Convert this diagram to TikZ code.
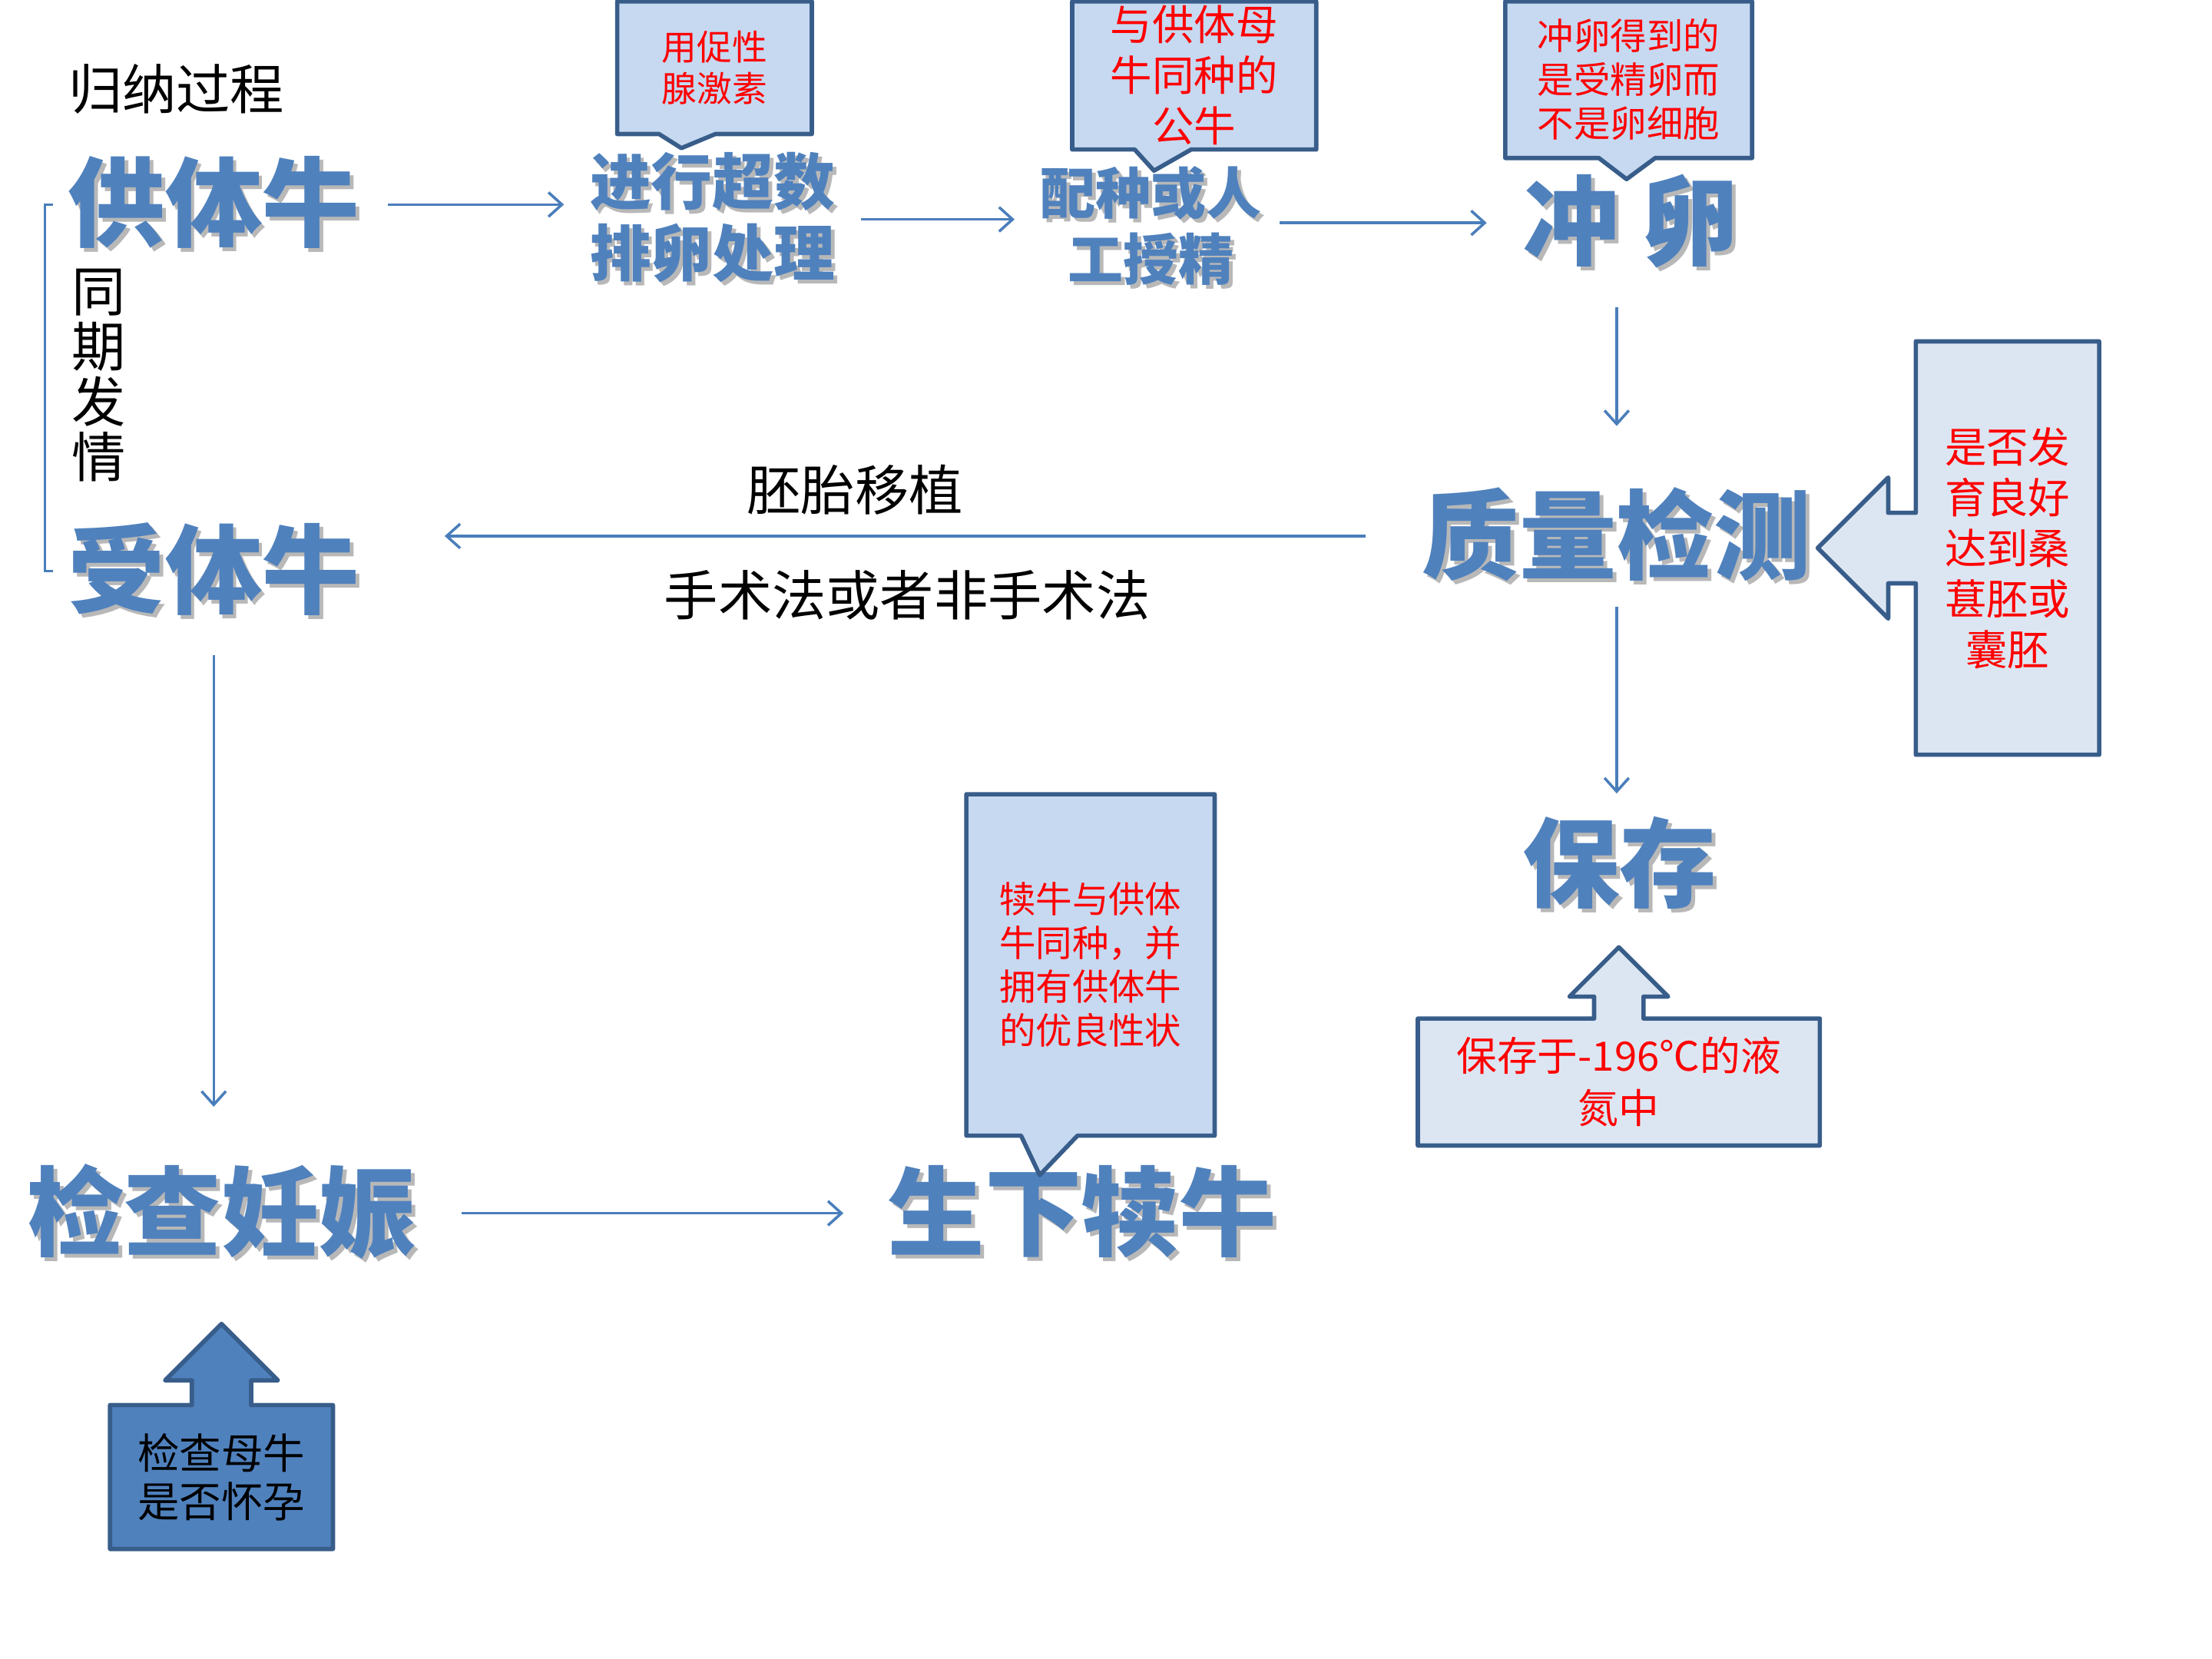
\documentclass[tikz,border=0pt]{standalone}
\usepackage{fontspec}
\setmainfont{Noto Sans CJK SC}
\usetikzlibrary{shapes.callouts,shapes.arrows,arrows.meta}

\definecolor{titleblue}{RGB}{79,129,189}
\definecolor{lineblue}{RGB}{74,126,187}
\definecolor{boxline}{RGB}{56,93,138}
\definecolor{notefill}{RGB}{198,217,241}
\definecolor{palefill}{RGB}{220,230,242}

\newdimen\pxl \pxl=0.018367cm
\newcommand\dropshade[1]{\leavevmode\rlap{\kern1.4pt\raisebox{-1.4pt}{\textcolor{black!28}{#1}}}#1}

\tikzset{
  big/.style={inner sep=0pt, text=titleblue, font=\bfseries\fontsize{36}{40}\selectfont},
  mid/.style={inner sep=0pt, text=titleblue, align=center},
  remark/.style={inner sep=0pt, align=center, font=\fontsize{20}{24}\selectfont},
  flow/.style={draw=lineblue, line width=1pt, -{Straight Barb[length=5pt,width=9pt]}},
  note/.style={rectangle callout, draw=boxline, line width=1.6pt, line join=round, fill=notefill,
    text=red, align=center, inner sep=0pt, callout pointer width=40\pxl},
  block/.style={arrow box, draw=boxline, line width=1.6pt, line join=round, fill=palefill,
    text=red, align=center, inner sep=0pt, arrow box tip angle=90}
}

\begin{document}
\begin{tikzpicture}[x=0.018367cm, y=-0.018367cm]
\useasboundingbox (0,0) rectangle (1568,1176);

\node (guina) at (125,63) [remark] {归纳过程};

\node (gongti) at (151.5,145) [big] {\dropshade{供体牛}};
\node (shouti) at (151.5,405) [big] {\dropshade{受体牛}};
\node (chaopai) at (505,155.5) [mid, font=\bfseries\fontsize{22.7}{26.7}\selectfont] {\dropshade{进行超数}\\\dropshade{排卵处理}};
\node (peizhong) at (816,161.5) [mid, font=\bfseries\fontsize{20.5}{24.5}\selectfont] {\dropshade{配种或人}\\\dropshade{工授精}};
\node (chongluan) at (1156,158) [big] {\dropshade{冲 卵}};
\node (zhiliang) at (1146,380) [big] {\dropshade{质量检测}};
\node (baocun) at (1148,613) [big] {\dropshade{保存}};
\node (jiancha) at (157,860) [big] {\dropshade{检查妊娠}};
\node (shengxia) at (767,860) [big] {\dropshade{生下犊牛}};

\node (tongqi) at (70,266) [remark, font=\fontsize{20}{20.4}\selectfont] {同\\期\\发\\情};
\draw[lineblue, line width=0.8pt] ([xshift=-10\pxl]gongti.west) -- ++(-6,0) |- ([xshift=-10\pxl]shouti.west);

\node (cuxing) at (506.5,48) [note, minimum width=138\pxl, minimum height=94\pxl,
  callout absolute pointer={(483,105)}, font=\fontsize{13}{15.2}\selectfont] {用促性\\腺激素};
\node (gongniu) at (846.5,53.5) [note, minimum width=173\pxl, minimum height=105\pxl,
  callout absolute pointer={(818,121)}, font=\fontsize{15.5}{18.8}\selectfont] {与供体母\\牛同种的\\公牛};
\node (shoujing) at (1154.5,56.5) [note, minimum width=175\pxl, minimum height=111\pxl,
  callout absolute pointer={(1153,127)}, font=\fontsize{13.5}{16.2}\selectfont] {冲卵得到的\\是受精卵而\\不是卵细胞};
\node (dunniu) at (773,684) [note, minimum width=176\pxl, minimum height=242\pxl,
  callout absolute pointer={(737,833)}, font=\fontsize{13.5}{16.2}\selectfont] {犊牛与供体\\牛同种，并\\拥有供体牛\\的优良性状};

\node (fayu) at (1423,388.5) [block, minimum width=130\pxl, minimum height=293\pxl,
  arrow box arrows={west:68\pxl}, arrow box shaft width=50\pxl, arrow box head extend=25\pxl,
  font=\fontsize{15.5}{18.8}\selectfont] {是否发\\育良好\\达到桑\\葚胚或\\囊胚};
\node (yedan) at (1147.5,767) [block, minimum width=285\pxl, minimum height=90\pxl,
  arrow box arrows={north:49\pxl}, arrow box shaft width=35\pxl, arrow box head extend=17.5\pxl,
  font=\fontsize{15}{19.3}\selectfont] {保存于-196℃的液\\氮中};
\node (huaiyun) at (157,1047) [block, fill=titleblue, text=black, minimum width=158\pxl, minimum height=102\pxl,
  arrow box arrows={north:56\pxl}, arrow box shaft width=42\pxl, arrow box head extend=19\pxl,
  font=\fontsize{15.5}{17.8}\selectfont] {检查母牛\\是否怀孕};

\draw[flow, shorten <=20\pxl, shorten >=18\pxl] (gongti.east) -- (gongti.east -| chaopai.west);
\draw[flow, shorten <=18\pxl, shorten >=18\pxl] (chaopai.east) -- (chaopai.east -| peizhong.west);
\draw[flow, shorten <=12\pxl, shorten >=25\pxl] (chongluan.west -| peizhong.east) -- (chongluan.west);
\draw[flow, shorten <=25\pxl, shorten >=43\pxl] (zhiliang.north |- chongluan.south) -- (zhiliang.north);
\draw[flow, shorten <=15\pxl, shorten >=16\pxl] (zhiliang.south) -- (zhiliang.south |- baocun.north);
\draw[flow, shorten <=40\pxl, shorten >=60\pxl] (zhiliang.west) -- (zhiliang.west -| shouti.east);
\draw[flow, shorten <=25\pxl, shorten >=40\pxl] (shouti.south) -- (shouti.south |- jiancha.north);
\draw[flow, shorten <=32\pxl, shorten >=31\pxl] (jiancha.east) -- (shengxia.west);

\node (yizhi) at (606,347) [remark] {胚胎移植};
\node (shoushu) at (643,422) [remark] {手术法或者非手术法};
\end{tikzpicture}
\end{document}
